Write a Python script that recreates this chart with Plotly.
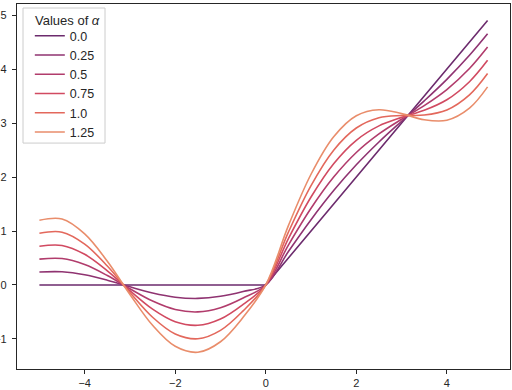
import plotly.graph_objects as go

# x sample points
x = [-5.0, -4.5, -4.0, -3.5, -3.0, -2.5, -2.0, -1.5, -1.0, -0.5, 0.0,
     0.5, 1.0, 1.5, 2.0, 2.5, 3.0, 3.5, 4.0, 4.5, 4.9]

alpha_labels = ["0.0", "0.25", "0.5", "0.75", "1.0", "1.25"]

y_a000 = [0, 0, 0, 0, 0, 0, 0, 0, 0, 0, 0,
          0.5, 1.0, 1.5, 2.0, 2.5, 3.0, 3.5, 4.0, 4.5, 4.9]
y_a025 = [0.240, 0.244, 0.189, 0.088, -0.035, -0.150, -0.227, -0.249, -0.210, -0.120, 0,
          0.620, 1.210, 1.749, 2.227, 2.650, 3.035, 3.412, 3.811, 4.256, 4.654]
y_a050 = [0.479, 0.489, 0.378, 0.175, -0.071, -0.299, -0.455, -0.499, -0.421, -0.240, 0,
          0.740, 1.421, 1.999, 2.455, 2.799, 3.071, 3.325, 3.622, 4.011, 4.409]
y_a075 = [0.719, 0.733, 0.568, 0.263, -0.106, -0.449, -0.682, -0.748, -0.631, -0.360, 0,
          0.860, 1.631, 2.248, 2.682, 2.949, 3.106, 3.237, 3.432, 3.767, 4.163]
y_a100 = [0.959, 0.978, 0.757, 0.351, -0.141, -0.599, -0.909, -0.998, -0.841, -0.479, 0,
          0.979, 1.841, 2.498, 2.909, 3.099, 3.141, 3.149, 3.243, 3.523, 3.918]
y_a125 = [1.199, 1.222, 0.946, 0.439, -0.176, -0.748, -1.137, -1.247, -1.052, -0.599, 0,
          1.099, 2.052, 2.747, 3.137, 3.248, 3.176, 3.062, 3.054, 3.278, 3.672]

series = [y_a000, y_a025, y_a050, y_a075, y_a100, y_a125]
colors = ["#6c2b6d", "#8f3371", "#b13c6c", "#d14a61", "#e3685c", "#e98d6b"]

fig = go.Figure()
for label, ys, col in zip(alpha_labels, series, colors):
    fig.add_trace(go.Scatter(
        x=x, y=ys, mode="lines", name=label,
        line=dict(color=col, width=1.6,
                  shape="linear" if label == "0.0" else "spline", smoothing=1.0),
    ))

axis_style = dict(
    showgrid=False, zeroline=False, showline=True, linecolor="#262626", linewidth=1.2,
    mirror=True, ticks="outside", ticklen=4, tickwidth=1.2, tickcolor="#262626",
    tickfont=dict(size=11, color="#262626"), automargin=False,
)

# legend frame + title drawn by hand so the spacing looks like matplotlib's
fig.add_shape(type="rect", xref="paper", yref="paper",
              x0=0.0122, x1=0.1785, y0=0.619, y1=0.989, layer="above",
              fillcolor="rgba(255,255,255,0.8)", line=dict(color="#cccccc", width=1))
fig.add_annotation(text="Values of <i>α</i>", xref="paper", yref="paper",
                   x=0.1024, y=0.956, showarrow=False, xanchor="center", yanchor="middle",
                   font=dict(size=13, color="#262626"))

fig.update_layout(
    width=512, height=390,
    margin=dict(l=17, r=2, t=4, b=21),
    paper_bgcolor="white", plot_bgcolor="white",
    font=dict(family="Liberation Sans, Arial, sans-serif", size=11, color="#262626"),
    xaxis=dict(range=[-5.495, 5.395], tickvals=[-4, -2, 0, 2, 4],
               ticktext=["−4", "−2", "0", "2", "4"], **axis_style),
    yaxis=dict(range=[-1.5575, 5.2075], tickvals=[-1, 0, 1, 2, 3, 4, 5],
               ticktext=["−1", "0", "1", "2", "3", "4", "5"], ticklabelstandoff=3,
               **axis_style),
    legend=dict(
        x=0.026, y=0.953, xanchor="left", yanchor="top",
        bgcolor="rgba(0,0,0,0)", borderwidth=0,
        font=dict(size=12.5), itemwidth=30,
    ),
    showlegend=True,
)

fig.write_html("out.html", config={"displayModeBar": False},
               post_script="document.body.style.margin='0';")
